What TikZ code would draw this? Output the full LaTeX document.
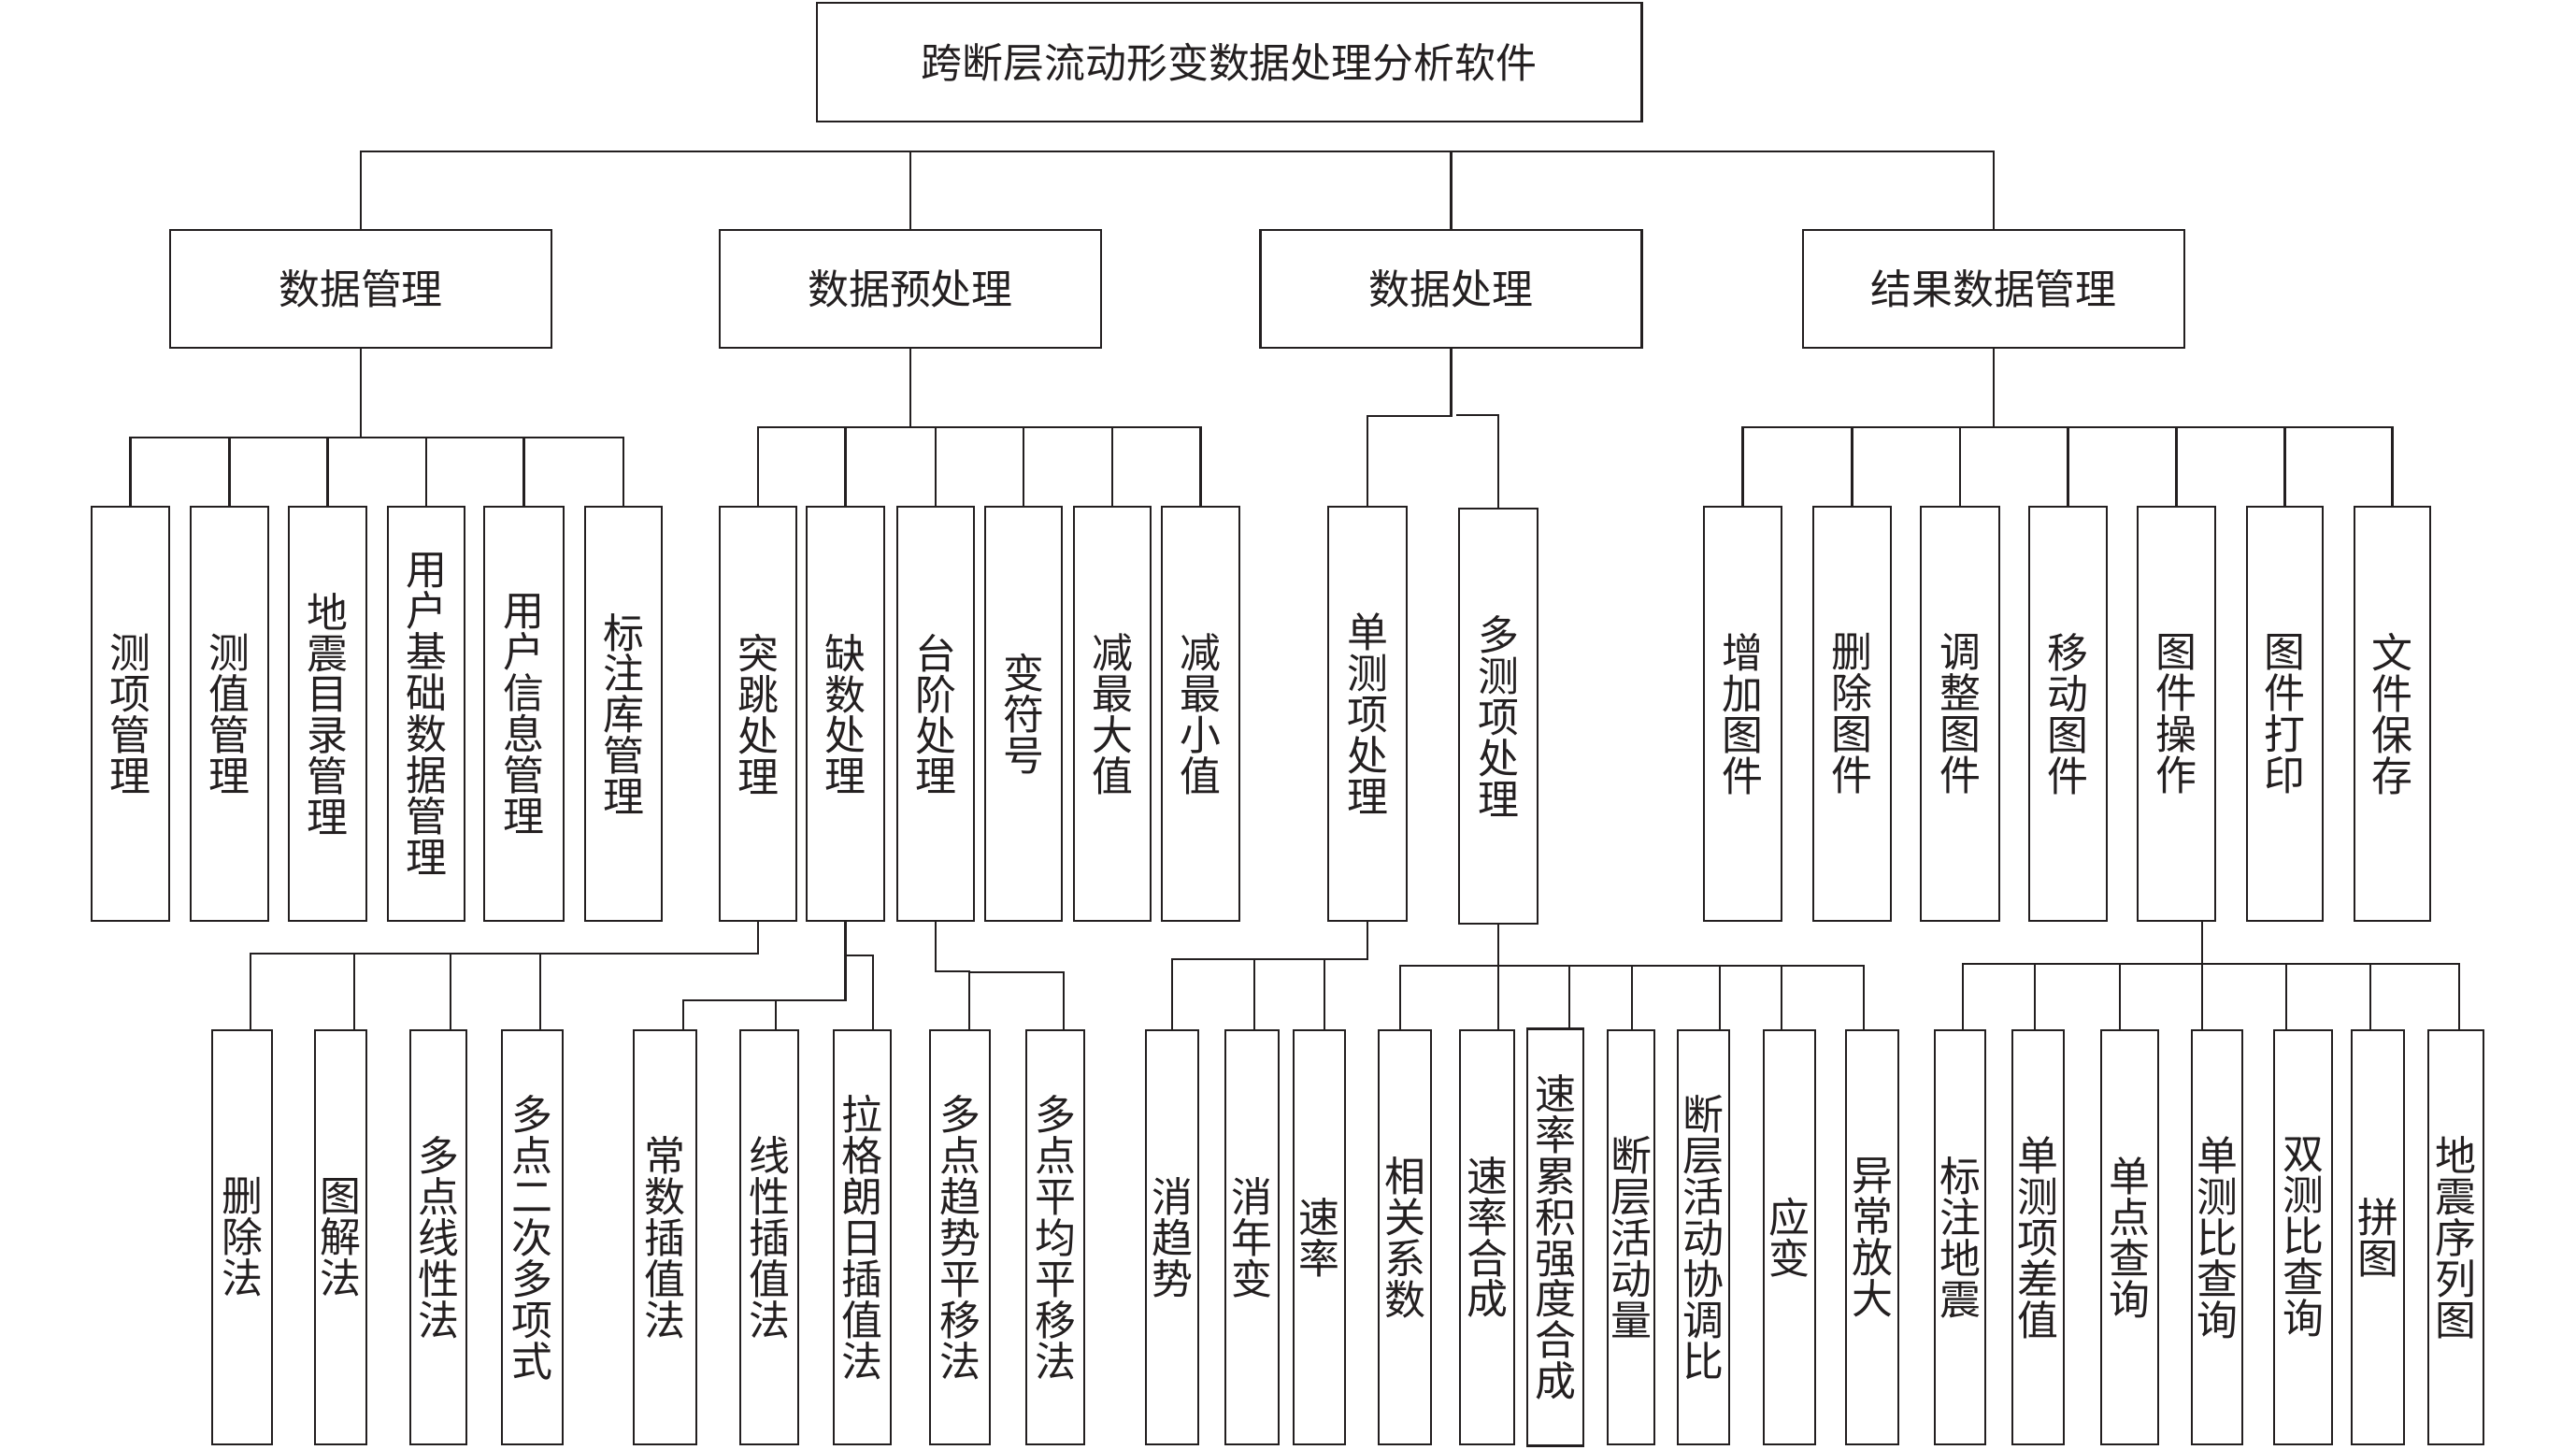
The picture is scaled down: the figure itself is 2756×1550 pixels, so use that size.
\documentclass[tikz,border=0pt]{standalone}
\usepackage{fontspec}
\newfontfamily\cjk{Noto Sans CJK SC}
\definecolor{ink}{RGB}{35,31,32}
\tikzset{
  box/.style={draw=ink, text=ink, line width=0.7pt, inner sep=0pt, outer sep=0pt,
    align=center, font=\cjk\fontsize{12.5pt}{12.5pt}\selectfont},
  lvlone/.style={box, minimum width=4.08cm, minimum height=1.26cm},
  tall/.style={box, minimum height=4.43cm},
  conn/.style={draw=ink, line width=0.7pt, line join=miter}
}
\begin{document}
\begin{tikzpicture}[x=0.01cm,y=-0.01cm]
\useasboundingbox (0,0) rectangle (2756,1550);
% title and level 1
\node[box, minimum width=8.82cm, minimum height=1.27cm] (top) at (1315,66.5) {跨断层流动形变数据处理分析软件};
\node[lvlone] (l1a) at (386,309) {数据管理};
\node[lvlone] (l1b) at (974,309) {数据预处理};
\node[lvlone] (l1c) at (1552.5,309) {数据处理};
\node[lvlone] (l1d) at (2133,309) {结果数据管理};
% level 2
\node[tall, minimum width=0.83cm] (a1) at (139.5,763.5) {测\\项\\管\\理};
\node[tall, minimum width=0.83cm] (a2) at (245.5,763.5) {测\\值\\管\\理};
\node[tall, minimum width=0.83cm] (a3) at (350.5,763.5) {地\\震\\目\\录\\管\\理};
\node[tall, minimum width=0.82cm] (a4) at (456,763.5) {用\\户\\基\\础\\数\\据\\管\\理};
\node[tall, minimum width=0.85cm] (a5) at (560.5,763.5) {用\\户\\信\\息\\管\\理};
\node[tall, minimum width=0.82cm] (a6) at (667,763.5) {标\\注\\库\\管\\理};
\node[tall, minimum width=0.82cm] (b1) at (811,763.5) {突\\跳\\处\\理};
\node[tall, minimum width=0.83cm] (b2) at (904.5,763.5) {缺\\数\\处\\理};
\node[tall, minimum width=0.82cm] (b3) at (1001,763.5) {台\\阶\\处\\理};
\node[tall, minimum width=0.82cm] (b4) at (1095,763.5) {变\\符\\号};
\node[tall, minimum width=0.82cm] (b5) at (1190,763.5) {减\\最\\大\\值};
\node[tall, minimum width=0.83cm] (b6) at (1284.5,763.5) {减\\最\\小\\值};
\node[tall, minimum width=0.84cm] (c1) at (1463,763.5) {单\\测\\项\\处\\理};
\node[tall, minimum width=0.84cm, minimum height=4.44cm] (c2) at (1603,766) {多\\测\\项\\处\\理};
\node[tall, minimum width=0.83cm] (d1) at (1864.5,763.5) {增\\加\\图\\件};
\node[tall, minimum width=0.83cm] (d2) at (1981.5,763.5) {删\\除\\图\\件};
\node[tall, minimum width=0.84cm] (d3) at (2097,763.5) {调\\整\\图\\件};
\node[tall, minimum width=0.83cm] (d4) at (2212.5,763.5) {移\\动\\图\\件};
\node[tall, minimum width=0.83cm] (d5) at (2328.5,763.5) {图\\件\\操\\作};
\node[tall, minimum width=0.81cm] (d6) at (2444.5,763.5) {图\\件\\打\\印};
\node[tall, minimum width=0.81cm] (d7) at (2559.5,763.5) {文\\件\\保\\存};
% level 3
\node[tall, minimum width=0.64cm] (e1) at (259,1323.5) {删\\除\\法};
\node[tall, minimum width=0.55cm] (e2) at (364.5,1323.5) {图\\解\\法};
\node[tall, minimum width=0.60cm] (e3) at (469,1323.5) {多\\点\\线\\性\\法};
\node[tall, minimum width=0.65cm] (e4) at (569.5,1323.5) {多\\点\\二\\次\\多\\项\\式};
\node[tall, minimum width=0.67cm] (f1) at (711.5,1323.5) {常\\数\\插\\值\\法};
\node[tall, minimum width=0.62cm] (f2) at (823,1323.5) {线\\性\\插\\值\\法};
\node[tall, minimum width=0.61cm] (f3) at (922.5,1323.5) {拉\\格\\朗\\日\\插\\值\\法};
\node[tall, minimum width=0.64cm] (g1) at (1027,1323.5) {多\\点\\趋\\势\\平\\移\\法};
\node[tall, minimum width=0.62cm] (g2) at (1129,1323.5) {多\\点\\平\\均\\平\\移\\法};
\node[tall, minimum width=0.56cm] (h1) at (1254,1323.5) {消\\趋\\势};
\node[tall, minimum width=0.57cm] (h2) at (1339.5,1323.5) {消\\年\\变};
\node[tall, minimum width=0.55cm] (h3) at (1411.5,1323.5) {速\\率};
\node[tall, minimum width=0.56cm] (i1) at (1503,1323.5) {相\\关\\系\\数};
\node[tall, minimum width=0.58cm] (i2) at (1591,1323.5) {速\\率\\合\\成};
\node[tall, minimum width=0.60cm, minimum height=4.45cm, line width=0.8pt] (i3) at (1664,1323.5) {速\\率\\累\\积\\强\\度\\合\\成};
\node[tall, minimum width=0.50cm] (i4) at (1745,1323.5) {断\\层\\活\\动\\量};
\node[tall, minimum width=0.55cm] (i5) at (1822.5,1323.5) {断\\层\\活\\动\\协\\调\\比};
\node[tall, minimum width=0.55cm] (i6) at (1914.5,1323.5) {应\\变};
\node[tall, minimum width=0.56cm] (i7) at (2003,1323.5) {异\\常\\放\\大};
\node[tall, minimum width=0.54cm] (j1) at (2097,1323.5) {标\\注\\地\\震};
\node[tall, minimum width=0.55cm] (j2) at (2180.5,1323.5) {单\\测\\项\\差\\值};
\node[tall, minimum width=0.61cm] (j3) at (2278.5,1323.5) {单\\点\\查\\询};
\node[tall, minimum width=0.54cm] (j4) at (2372,1323.5) {单\\测\\比\\查\\询};
\node[tall, minimum width=0.62cm] (j5) at (2464,1323.5) {双\\测\\比\\查\\询};
\node[tall, minimum width=0.56cm] (j6) at (2544,1323.5) {拼\\图};
\node[tall, minimum width=0.59cm] (j7) at (2627.5,1323.5) {地\\震\\序\\列\\图};
% bus levels
\coordinate (busT) at (0,162);
\coordinate (busA) at (0,468);
\coordinate (busB) at (0,457);
\coordinate (busC) at (0,445);
\coordinate (cgap) at (1558,444);
\coordinate (busD) at (0,457);
% top bus
\draw[conn] (l1a.north) |- (l1d.north |- busT) -- (l1d.north);
\draw[conn] (l1b.north) -- (l1b.north |- busT);
\draw[conn] (l1c.north) -- (l1c.north |- busT);
% group A
\draw[conn] (l1a.south) -- (l1a.south |- busA);
\draw[conn] (a1.north) |- (a6.north |- busA) -- (a6.north);
\foreach \n in {a2,a3,a4,a5} \draw[conn] (\n.north) -- (\n.north |- busA);
% group B
\draw[conn] (l1b.south) -- (l1b.south |- busB);
\draw[conn] (b1.north) |- (b6.north |- busB) -- (b6.north);
\foreach \n in {b2,b3,b4,b5} \draw[conn] (\n.north) -- (\n.north |- busB);
% group C
\draw[conn] (l1c.south) |- (c1.north |- busC) -- (c1.north);
\draw[conn] (cgap) -| (c2.north);
% group D
\draw[conn] (l1d.south) -- (l1d.south |- busD);
\draw[conn] (d1.north) |- (d7.north |- busD) -- (d7.north);
\foreach \n in {d2,d3,d4,d5,d6} \draw[conn] (\n.north) -- (\n.north |- busD);
% group E (from b1)
\coordinate (e1t) at (268,1020);
\coordinate (e2t) at (379,1020);
\coordinate (e3t) at (482,1020);
\coordinate (e4t) at (578,1020);
\draw[conn] (b1.south) |- (e1t) -- (e1t |- e1.north);
\draw[conn] (e2t) -- (e2t |- e2.north);
\draw[conn] (e3t) -- (e3t |- e3.north);
\draw[conn] (e4t) -- (e4t |- e4.north);
% group F (from b2)
\coordinate (f1t) at (731,1070);
\coordinate (f2t) at (830,1070);
\coordinate (f3t) at (934,1022);
\draw[conn] (b2.south) |- (f1t) -- (f1t |- f1.north);
\draw[conn] (f2t) -- (f2t |- f2.north);
\draw[conn] (b2.south |- f3t) -- (f3t) -- (f3t |- f3.north);
% group G (from b3)
\coordinate (g1t) at (1037,1039);
\coordinate (g2t) at (1138,1040);
\draw[conn] (b3.south) |- (g1t) -- (g1t |- g1.north);
\draw[conn] (g1t |- g2t) -- (g2t) -- (g2t |- g2.north);
% group H (from c1)
\coordinate (h1t) at (1254,1026);
\coordinate (h2t) at (1342,1026);
\coordinate (h3t) at (1417,1026);
\draw[conn] (c1.south) |- (h1t) -- (h1t |- h1.north);
\draw[conn] (h2t) -- (h2t |- h2.north);
\draw[conn] (h3t) -- (h3t |- h3.north);
% group I (from c2)
\coordinate (i1t) at (1498,1033);
\coordinate (i3t) at (1679,1033);
\coordinate (i4t) at (1746,1033);
\coordinate (i5t) at (1840,1033);
\coordinate (i6t) at (1906,1033);
\coordinate (i7t) at (1994,1033);
\draw[conn] (c2.south) -- (c2.south |- i2.north);
\draw[conn] (i1t |- i1.north) -- (i1t) -- (i7t) -- (i7t |- i7.north);
\draw[conn] (i3t) -- (i3t |- i3.north);
\draw[conn] (i4t) -- (i4t |- i4.north);
\draw[conn] (i5t) -- (i5t |- i5.north);
\draw[conn] (i6t) -- (i6t |- i6.north);
% group J (from d5)
\coordinate (j1t) at (2100,1031);
\coordinate (j2t) at (2177,1031);
\coordinate (j3t) at (2268,1031);
\coordinate (j4t) at (2356,1031);
\coordinate (j5t) at (2446,1031);
\coordinate (j6t) at (2536,1031);
\coordinate (j7t) at (2631,1031);
\draw[conn] (d5.south -| j4t) -- (j4t |- j4.north);
\draw[conn] (j1t |- j1.north) -- (j1t) -- (j7t) -- (j7t |- j7.north);
\draw[conn] (j2t) -- (j2t |- j2.north);
\draw[conn] (j3t) -- (j3t |- j3.north);
\draw[conn] (j5t) -- (j5t |- j5.north);
\draw[conn] (j6t) -- (j6t |- j6.north);
\end{tikzpicture}
\end{document}
